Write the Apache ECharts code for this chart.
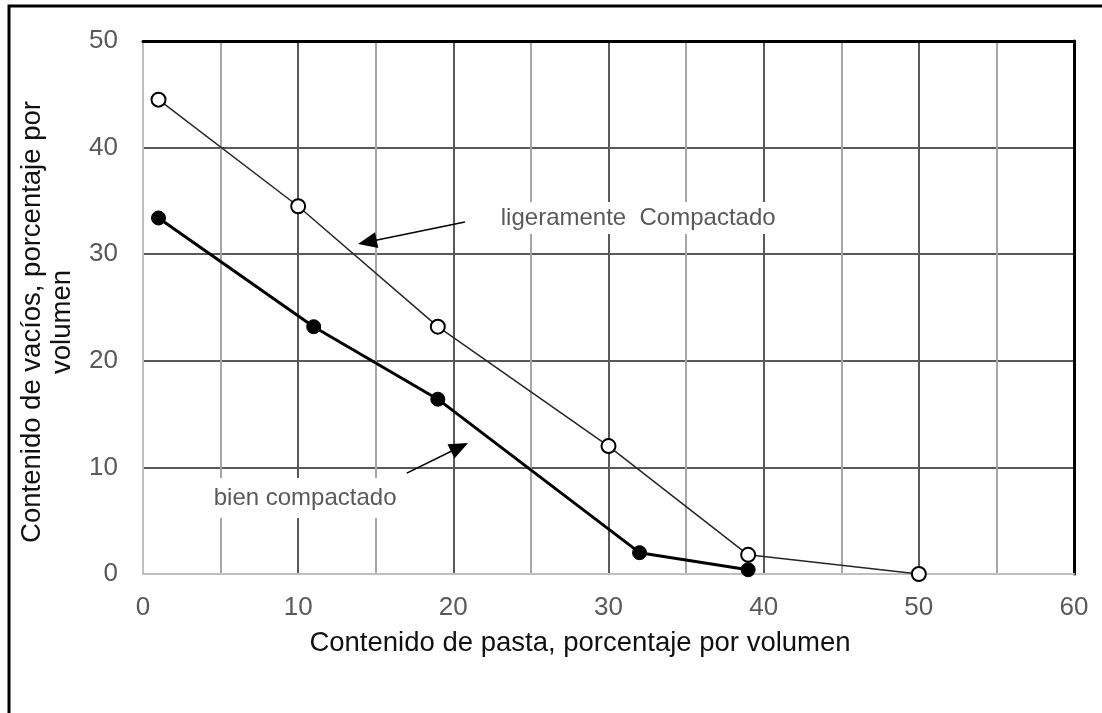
<!DOCTYPE html>
<html>
<head>
<meta charset="utf-8">
<script src="https://cdn.jsdelivr.net/npm/echarts@6/dist/echarts.min.js"></script>
<style>
html,body{margin:0;padding:0;background:#fff;}
#c{width:1102px;height:713px;}
</style>
</head>
<body>
<div id="c"></div>
<script>
// ---- data ----
const ligX = [1, 10, 19, 30, 39, 50];
const ligY = [44.5, 34.5, 23.2, 12, 1.8, 0];
const bienX = [1, 11, 19, 32, 39];
const bienY = [33.4, 23.2, 16.4, 2, 0.4];
const xTitle = 'Contenido de pasta, porcentaje por volumen';
const yTitle = 'Contenido de vacíos, porcentaje por\nvolumen';
const ligLabel = 'ligeramente  Compactado';
const bienLabel = 'bien compactado';
// annotation anchors in data units: [labelLeft, arrow tail, arrow tip]
const ligAnno = {text: [22.8, 33.4], tail: [20.75, 33.02], tip: [13.86, 30.96]};
const bienAnno = {text: [4.3, 7.13], tail: [17.0, 9.47], tip: [20.95, 12.29]};

const FONT = 'Liberation Sans, Arial, sans-serif';
const chart = echarts.init(document.getElementById('c'), null, {renderer: 'canvas'});

const pairs = (xs, ys) => xs.map((x, i) => [x, ys[i]]);

chart.setOption({
  animation: false,
  backgroundColor: '#fff',
  grid: {left: 143, right: 28, top: 41, bottom: 139, containLabel: false},
  xAxis: [{
    type: 'value', min: 0, max: 60, interval: 5, position: 'bottom',
    axisLine: {show: true, onZero: false, lineStyle: {color: '#bfbfbf', width: 2}},
    axisTick: {show: false},
    axisLabel: {
      color: '#595959', fontSize: 26, fontFamily: FONT, margin: 21,
      formatter: v => (v % 10 === 0 ? String(v) : '')
    },
    splitLine: {show: true, showMinLine: false, showMaxLine: false,
      lineStyle: {color: ['#a6a6a6', '#595959'], width: 2}}
  }, {
    type: 'value', min: 0, max: 60, position: 'top',
    axisLine: {show: true, onZero: false, lineStyle: {color: '#000', width: 3}},
    axisTick: {show: false}, axisLabel: {show: false}, splitLine: {show: false}
  }],
  yAxis: [{
    type: 'value', min: 0, max: 50, interval: 10, position: 'left',
    axisLine: {show: true, onZero: false, lineStyle: {color: '#bfbfbf', width: 2}},
    axisTick: {show: false},
    axisLabel: {color: '#595959', fontSize: 26, fontFamily: FONT, margin: 25},
    splitLine: {show: true, showMinLine: false, showMaxLine: false,
      lineStyle: {color: '#595959', width: 2}}
  }, {
    type: 'value', min: 0, max: 50, position: 'right',
    axisLine: {show: true, onZero: false, lineStyle: {color: '#000', width: 3}},
    axisTick: {show: false}, axisLabel: {show: false}, splitLine: {show: false}
  }],
  series: [{
    name: 'ligeramente Compactado', type: 'line', data: pairs(ligX, ligY),
    symbol: 'circle', symbolSize: 14,
    lineStyle: {color: '#262626', width: 1.5},
    itemStyle: {color: '#fff', borderColor: '#000', borderWidth: 2},
    z: 5
  }, {
    name: 'bien compactado', type: 'line', data: pairs(bienX, bienY),
    symbol: 'circle', symbolSize: 14,
    lineStyle: {color: '#000', width: 3},
    itemStyle: {color: '#000', borderColor: '#000', borderWidth: 1},
    z: 6
  }]
});

function arrow(tail, tip) {
  const a = chart.convertToPixel({gridIndex: 0}, tail);
  const b = chart.convertToPixel({gridIndex: 0}, tip);
  const dx = b[0] - a[0], dy = b[1] - a[1];
  const L = Math.sqrt(dx * dx + dy * dy);
  const ux = dx / L, uy = dy / L;
  const hl = 19, hw = 8;
  const bx = b[0] - ux * hl, by = b[1] - uy * hl;
  return [{
    type: 'line', z: 20,
    shape: {x1: a[0], y1: a[1], x2: bx + ux * 2, y2: by + uy * 2},
    style: {stroke: '#000', lineWidth: 1.5}
  }, {
    type: 'polygon', z: 20,
    shape: {points: [[b[0], b[1]], [bx - uy * hw, by + ux * hw], [bx + uy * hw, by - ux * hw]]},
    style: {fill: '#000'}
  }];
}

function label(txt, pos, padV) {
  const p = chart.convertToPixel({gridIndex: 0}, pos);
  return {
    type: 'text', z: 15, x: p[0], y: p[1],
    style: {
      text: txt, fill: '#595959', font: '24px ' + FONT,
      textAlign: 'left', textVerticalAlign: 'middle',
      backgroundColor: '#fff', padding: [padV, 4, padV, 4]
    }
  };
}

const g = [];
g.push(label(ligLabel, ligAnno.text, 4));
g.push(label(bienLabel, bienAnno.text, 8));
g.push(...arrow(ligAnno.tail, ligAnno.tip));
g.push(...arrow(bienAnno.tail, bienAnno.tip));
g.push({
  type: 'text', z: 20, x: 580, y: 643,
  style: {text: xTitle, fill: '#111', font: '27.5px ' + FONT, textAlign: 'center', textVerticalAlign: 'middle'}
});
g.push({
  type: 'text', z: 20, x: 47, y: 322, rotation: Math.PI / 2,
  style: {text: yTitle, fill: '#111', font: '27.5px ' + FONT, textAlign: 'center',
    textVerticalAlign: 'middle', lineHeight: 30}
});
g.push({
  type: 'polyline', z: 30,
  shape: {points: [[9, 713], [9, 6], [1102, 6]]},
  style: {stroke: '#000', lineWidth: 3, fill: null}
});
chart.setOption({graphic: g});
</script>
</body>
</html>
